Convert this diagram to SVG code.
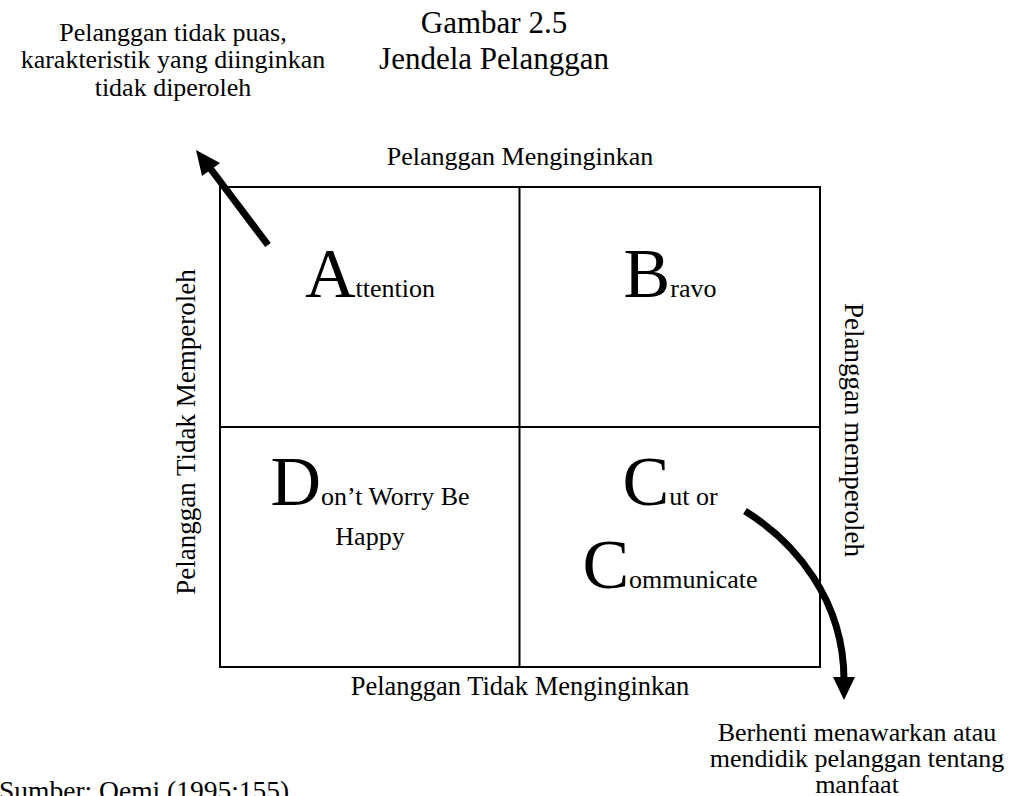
<svg xmlns="http://www.w3.org/2000/svg" width="1015" height="796" viewBox="0 0 1015 796">
  <style>
    text { font-family: "Liberation Serif", Tinos, "Nimbus Roman", Times, serif; fill: #000; }
    .body { font-size: 26px; }
    .side { font-size: 27px; }
    .title { font-size: 31px; }
    .cap { font-size: 70px; }
    .mid { text-anchor: middle; }
    .grid { fill: none; stroke: #000; stroke-width: 2; }
    .arrow { fill: none; stroke: #000; stroke-width: 7; }
    .head { fill: #000; stroke: none; }
  </style>

  <rect width="1015" height="796" fill="#fff"/>

  <!-- figure caption -->
  <g id="caption">
    <text class="title mid" x="494" y="33">Gambar 2.5</text>
    <text class="title mid" x="494" y="69">Jendela Pelanggan</text>
  </g>

  <!-- axis labels around the window -->
  <g id="axis-top"><text class="body mid" x="520" y="165">Pelanggan Menginginkan</text></g>
  <g id="axis-bottom"><text class="body mid" x="520" y="695" style="font-size:26.5px">Pelanggan Tidak Menginginkan</text></g>
  <g id="axis-left"><text class="side mid" transform="translate(195,432) rotate(-90)">Pelanggan Tidak Memperoleh</text></g>
  <g id="axis-right"><text class="side mid" transform="translate(845,430) rotate(90)">Pelanggan memperoleh</text></g>

  <!-- 2x2 window -->
  <g id="window">
    <rect class="grid" x="220" y="187" width="600" height="480"/>
    <line class="grid" x1="519.5" y1="187" x2="519.5" y2="667"/>
    <line class="grid" x1="220" y1="427" x2="820" y2="427"/>
  </g>

  <g id="cell-attention">
    <text class="mid" x="370" y="297"><tspan class="cap">A</tspan><tspan class="body">ttention</tspan></text>
  </g>
  <g id="cell-bravo">
    <text class="mid" x="670" y="297"><tspan class="cap">B</tspan><tspan class="body">ravo</tspan></text>
  </g>
  <g id="cell-dont-worry">
    <text class="mid" x="370" y="505"><tspan class="cap">D</tspan><tspan class="body">on’t Worry Be</tspan></text>
    <text class="body mid" x="370" y="545">Happy</text>
  </g>
  <g id="cell-cut-or-communicate">
    <text class="mid" x="670" y="505"><tspan class="cap">C</tspan><tspan class="body">ut or</tspan></text>
    <text class="mid" x="670" y="588"><tspan class="cap">C</tspan><tspan class="body">ommunicate</tspan></text>
  </g>

  <!-- notes at the arrow ends -->
  <g id="note-unsatisfied">
    <text class="body mid" x="173" y="41">Pelanggan tidak puas,</text>
    <text class="body mid" x="173" y="68">karakteristik yang diinginkan</text>
    <text class="body mid" x="173" y="96">tidak diperoleh</text>
  </g>
  <g id="note-stop">
    <text class="body mid" x="857" y="741">Berhenti menawarkan atau</text>
    <text class="body mid" x="857" y="767">mendidik pelanggan tentang</text>
    <text class="body mid" x="857" y="793">manfaat</text>
  </g>

  <g id="source">
    <text class="body" x="-1" y="800" style="font-size:27.5px">Sumber: Oemi (1995:155)</text>
  </g>

  <!-- connectors -->
  <g id="connectors">
    <line class="arrow" x1="268" y1="245" x2="207" y2="164"/>
    <polygon class="head" points="196,150 220,163 202,176"/>
    <path class="arrow" d="M745,511 C795,542 844,600 844,680"/>
    <polygon class="head" points="833,677 855,677 844,700"/>
  </g>
</svg>
